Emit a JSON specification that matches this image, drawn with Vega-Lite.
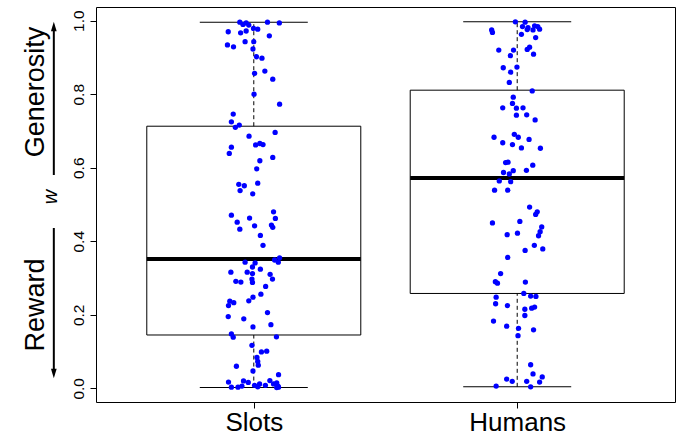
{
  "$schema": "https://vega.github.io/schema/vega-lite/v6.json",
  "width": 579,
  "height": 395,
  "autosize": "none",
  "padding": {"left": 96, "top": 7, "right": 3, "bottom": 34},
  "background": "white",
  "config": {
    "view": {"stroke": "#000", "strokeWidth": 1},
    "axis": {"grid": false, "domain": false, "tickColor": "#000", "labelColor": "#000", "labelFont": "Liberation Sans", "tickSize": 6},
    "font": "Liberation Sans"
  },
  "datasets": {
    "boxes": [
      {"group": "Slots", "pos": 1, "lo": 0.002, "q1": 0.145, "med": 0.352, "q3": 0.713, "hi": 0.996},
      {"group": "Humans", "pos": 2, "lo": 0.004, "q1": 0.258, "med": 0.572, "q3": 0.811, "hi": 0.997}
    ],
    "notes": [{"id": 1}],
    "points": [
      {"group": "Slots", "x": 0.947, "w": 0.996}, {"group": "Slots", "x": 0.959, "w": 0.990}, {"group": "Slots", "x": 0.971, "w": 0.994}, {"group": "Slots", "x": 0.981, "w": 0.988},
      {"group": "Slots", "x": 1.052, "w": 0.996}, {"group": "Slots", "x": 1.097, "w": 0.994}, {"group": "Slots", "x": 0.903, "w": 0.970}, {"group": "Slots", "x": 0.950, "w": 0.967},
      {"group": "Slots", "x": 0.971, "w": 0.972}, {"group": "Slots", "x": 0.999, "w": 0.979}, {"group": "Slots", "x": 1.015, "w": 0.977}, {"group": "Slots", "x": 1.059, "w": 0.959},
      {"group": "Slots", "x": 0.900, "w": 0.934}, {"group": "Slots", "x": 0.923, "w": 0.929}, {"group": "Slots", "x": 0.967, "w": 0.943}, {"group": "Slots", "x": 1.000, "w": 0.943},
      {"group": "Slots", "x": 0.997, "w": 0.923}, {"group": "Slots", "x": 1.010, "w": 0.902}, {"group": "Slots", "x": 1.031, "w": 0.898}, {"group": "Slots", "x": 1.003, "w": 0.857},
      {"group": "Slots", "x": 1.042, "w": 0.863}, {"group": "Slots", "x": 1.072, "w": 0.841}, {"group": "Slots", "x": 1.001, "w": 0.800}, {"group": "Slots", "x": 1.098, "w": 0.773},
      {"group": "Slots", "x": 0.922, "w": 0.746}, {"group": "Slots", "x": 0.915, "w": 0.725}, {"group": "Slots", "x": 0.930, "w": 0.710}, {"group": "Slots", "x": 0.945, "w": 0.716},
      {"group": "Slots", "x": 0.982, "w": 0.686}, {"group": "Slots", "x": 1.081, "w": 0.696}, {"group": "Slots", "x": 0.915, "w": 0.656}, {"group": "Slots", "x": 0.907, "w": 0.639},
      {"group": "Slots", "x": 1.007, "w": 0.662}, {"group": "Slots", "x": 1.023, "w": 0.666}, {"group": "Slots", "x": 1.035, "w": 0.663}, {"group": "Slots", "x": 1.023, "w": 0.619},
      {"group": "Slots", "x": 1.072, "w": 0.628}, {"group": "Slots", "x": 1.011, "w": 0.597}, {"group": "Slots", "x": 0.943, "w": 0.555}, {"group": "Slots", "x": 0.964, "w": 0.551},
      {"group": "Slots", "x": 0.948, "w": 0.538}, {"group": "Slots", "x": 1.015, "w": 0.558}, {"group": "Slots", "x": 0.996, "w": 0.529}, {"group": "Slots", "x": 0.915, "w": 0.471},
      {"group": "Slots", "x": 0.937, "w": 0.452}, {"group": "Slots", "x": 0.947, "w": 0.433}, {"group": "Slots", "x": 0.984, "w": 0.463}, {"group": "Slots", "x": 1.003, "w": 0.442},
      {"group": "Slots", "x": 1.075, "w": 0.480}, {"group": "Slots", "x": 1.082, "w": 0.462}, {"group": "Slots", "x": 1.067, "w": 0.444}, {"group": "Slots", "x": 1.072, "w": 0.438},
      {"group": "Slots", "x": 1.025, "w": 0.416}, {"group": "Slots", "x": 1.035, "w": 0.389}, {"group": "Slots", "x": 0.967, "w": 0.343}, {"group": "Slots", "x": 1.005, "w": 0.341},
      {"group": "Slots", "x": 0.995, "w": 0.330}, {"group": "Slots", "x": 1.025, "w": 0.324}, {"group": "Slots", "x": 1.079, "w": 0.349}, {"group": "Slots", "x": 1.098, "w": 0.355},
      {"group": "Slots", "x": 1.093, "w": 0.343}, {"group": "Slots", "x": 0.913, "w": 0.316}, {"group": "Slots", "x": 0.975, "w": 0.316}, {"group": "Slots", "x": 0.995, "w": 0.312},
      {"group": "Slots", "x": 1.062, "w": 0.310}, {"group": "Slots", "x": 1.071, "w": 0.297}, {"group": "Slots", "x": 0.932, "w": 0.291}, {"group": "Slots", "x": 0.951, "w": 0.289},
      {"group": "Slots", "x": 0.993, "w": 0.297}, {"group": "Slots", "x": 0.995, "w": 0.288}, {"group": "Slots", "x": 1.045, "w": 0.277}, {"group": "Slots", "x": 1.027, "w": 0.256},
      {"group": "Slots", "x": 0.997, "w": 0.248}, {"group": "Slots", "x": 0.909, "w": 0.237}, {"group": "Slots", "x": 0.924, "w": 0.233}, {"group": "Slots", "x": 0.904, "w": 0.225},
      {"group": "Slots", "x": 0.981, "w": 0.238}, {"group": "Slots", "x": 0.903, "w": 0.195}, {"group": "Slots", "x": 0.962, "w": 0.189}, {"group": "Slots", "x": 1.052, "w": 0.206},
      {"group": "Slots", "x": 1.065, "w": 0.173}, {"group": "Slots", "x": 0.997, "w": 0.167}, {"group": "Slots", "x": 0.915, "w": 0.148}, {"group": "Slots", "x": 0.922, "w": 0.139},
      {"group": "Slots", "x": 1.086, "w": 0.140}, {"group": "Slots", "x": 0.993, "w": 0.117}, {"group": "Slots", "x": 1.029, "w": 0.099}, {"group": "Slots", "x": 1.049, "w": 0.101},
      {"group": "Slots", "x": 1.012, "w": 0.084}, {"group": "Slots", "x": 1.015, "w": 0.073}, {"group": "Slots", "x": 1.017, "w": 0.063}, {"group": "Slots", "x": 0.934, "w": 0.060},
      {"group": "Slots", "x": 0.997, "w": 0.047}, {"group": "Slots", "x": 1.094, "w": 0.037}, {"group": "Slots", "x": 0.904, "w": 0.017}, {"group": "Slots", "x": 0.961, "w": 0.020},
      {"group": "Slots", "x": 0.979, "w": 0.016}, {"group": "Slots", "x": 0.915, "w": 0.003}, {"group": "Slots", "x": 0.940, "w": 0.003}, {"group": "Slots", "x": 0.955, "w": 0.006},
      {"group": "Slots", "x": 1.003, "w": 0.008}, {"group": "Slots", "x": 1.022, "w": 0.012}, {"group": "Slots", "x": 1.044, "w": 0.008}, {"group": "Slots", "x": 1.061, "w": 0.021},
      {"group": "Slots", "x": 1.075, "w": 0.012}, {"group": "Slots", "x": 1.087, "w": 0.015}, {"group": "Slots", "x": 1.092, "w": 0.006}, {"group": "Slots", "x": 1.087, "w": 0.002},
      {"group": "Slots", "x": 1.094, "w": 0.003}, {"group": "Slots", "x": 1.015, "w": 0.004},
      {"group": "Humans", "x": 1.993, "w": 0.997}, {"group": "Humans", "x": 2.030, "w": 0.996}, {"group": "Humans", "x": 2.020, "w": 0.984}, {"group": "Humans", "x": 2.041, "w": 0.981},
      {"group": "Humans", "x": 2.038, "w": 0.976}, {"group": "Humans", "x": 2.060, "w": 0.975}, {"group": "Humans", "x": 2.066, "w": 0.986}, {"group": "Humans", "x": 2.078, "w": 0.984},
      {"group": "Humans", "x": 2.085, "w": 0.977}, {"group": "Humans", "x": 1.903, "w": 0.975}, {"group": "Humans", "x": 1.906, "w": 0.968}, {"group": "Humans", "x": 2.016, "w": 0.963},
      {"group": "Humans", "x": 2.070, "w": 0.954}, {"group": "Humans", "x": 1.930, "w": 0.920}, {"group": "Humans", "x": 1.986, "w": 0.920}, {"group": "Humans", "x": 1.974, "w": 0.905},
      {"group": "Humans", "x": 2.038, "w": 0.922}, {"group": "Humans", "x": 2.047, "w": 0.928}, {"group": "Humans", "x": 2.062, "w": 0.909}, {"group": "Humans", "x": 1.947, "w": 0.872},
      {"group": "Humans", "x": 1.999, "w": 0.874}, {"group": "Humans", "x": 1.975, "w": 0.860}, {"group": "Humans", "x": 1.970, "w": 0.832}, {"group": "Humans", "x": 2.057, "w": 0.809},
      {"group": "Humans", "x": 1.985, "w": 0.792}, {"group": "Humans", "x": 1.982, "w": 0.775}, {"group": "Humans", "x": 1.945, "w": 0.763}, {"group": "Humans", "x": 1.997, "w": 0.762},
      {"group": "Humans", "x": 2.022, "w": 0.763}, {"group": "Humans", "x": 1.997, "w": 0.743}, {"group": "Humans", "x": 2.036, "w": 0.744}, {"group": "Humans", "x": 2.068, "w": 0.730},
      {"group": "Humans", "x": 1.912, "w": 0.683}, {"group": "Humans", "x": 1.945, "w": 0.668}, {"group": "Humans", "x": 1.989, "w": 0.691}, {"group": "Humans", "x": 2.004, "w": 0.683},
      {"group": "Humans", "x": 1.982, "w": 0.663}, {"group": "Humans", "x": 2.016, "w": 0.654}, {"group": "Humans", "x": 2.045, "w": 0.677}, {"group": "Humans", "x": 2.088, "w": 0.653},
      {"group": "Humans", "x": 1.956, "w": 0.614}, {"group": "Humans", "x": 1.965, "w": 0.615}, {"group": "Humans", "x": 1.948, "w": 0.587}, {"group": "Humans", "x": 1.970, "w": 0.583},
      {"group": "Humans", "x": 1.985, "w": 0.592}, {"group": "Humans", "x": 2.035, "w": 0.593}, {"group": "Humans", "x": 2.059, "w": 0.607}, {"group": "Humans", "x": 1.932, "w": 0.564},
      {"group": "Humans", "x": 1.975, "w": 0.562}, {"group": "Humans", "x": 1.914, "w": 0.539}, {"group": "Humans", "x": 1.964, "w": 0.539}, {"group": "Humans", "x": 2.047, "w": 0.493},
      {"group": "Humans", "x": 2.070, "w": 0.473}, {"group": "Humans", "x": 2.076, "w": 0.480}, {"group": "Humans", "x": 1.906, "w": 0.450}, {"group": "Humans", "x": 2.010, "w": 0.454},
      {"group": "Humans", "x": 1.962, "w": 0.418}, {"group": "Humans", "x": 2.001, "w": 0.422}, {"group": "Humans", "x": 2.093, "w": 0.439}, {"group": "Humans", "x": 2.087, "w": 0.426},
      {"group": "Humans", "x": 2.081, "w": 0.415}, {"group": "Humans", "x": 2.065, "w": 0.389}, {"group": "Humans", "x": 2.097, "w": 0.379}, {"group": "Humans", "x": 2.030, "w": 0.375},
      {"group": "Humans", "x": 1.964, "w": 0.356}, {"group": "Humans", "x": 1.937, "w": 0.312}, {"group": "Humans", "x": 1.917, "w": 0.290}, {"group": "Humans", "x": 1.925, "w": 0.286},
      {"group": "Humans", "x": 2.031, "w": 0.289}, {"group": "Humans", "x": 2.025, "w": 0.258}, {"group": "Humans", "x": 1.920, "w": 0.248}, {"group": "Humans", "x": 2.051, "w": 0.251},
      {"group": "Humans", "x": 2.071, "w": 0.250}, {"group": "Humans", "x": 1.918, "w": 0.230}, {"group": "Humans", "x": 1.963, "w": 0.225}, {"group": "Humans", "x": 2.029, "w": 0.215},
      {"group": "Humans", "x": 2.055, "w": 0.218}, {"group": "Humans", "x": 2.066, "w": 0.221}, {"group": "Humans", "x": 2.029, "w": 0.198}, {"group": "Humans", "x": 1.910, "w": 0.183},
      {"group": "Humans", "x": 1.960, "w": 0.169}, {"group": "Humans", "x": 2.005, "w": 0.163}, {"group": "Humans", "x": 2.062, "w": 0.159}, {"group": "Humans", "x": 2.003, "w": 0.143},
      {"group": "Humans", "x": 2.051, "w": 0.064}, {"group": "Humans", "x": 2.060, "w": 0.039}, {"group": "Humans", "x": 2.095, "w": 0.031}, {"group": "Humans", "x": 1.960, "w": 0.025},
      {"group": "Humans", "x": 1.981, "w": 0.019}, {"group": "Humans", "x": 2.036, "w": 0.019}, {"group": "Humans", "x": 2.085, "w": 0.017}, {"group": "Humans", "x": 1.920, "w": 0.006},
      {"group": "Humans", "x": 2.051, "w": 0.004}
    ]
  },
  "encoding": {
    "x": {"type": "quantitative", "scale": {"domain": [0.42, 2.58], "nice": false, "zero": false},
      "axis": {"values": [1, 2], "labelExpr": "datum.value == 1 ? 'Slots' : 'Humans'", "labelFontSize": 26, "labelPadding": 1, "title": null, "labelFlush": false}},
    "y": {"type": "quantitative", "scale": {"domain": [-0.0373, 1.0373], "nice": false, "zero": false},
      "axis": {"values": [0, 0.2, 0.4, 0.6, 0.8, 1.0], "format": ".1f", "labelAngle": 270, "labelAlign": "center", "labelBaseline": "bottom", "labelFontSize": 15.5, "labelPadding": 4, "title": null, "labelFlush": false}}
  },
  "layer": [
    {
      "data": {"name": "boxes"},
      "mark": {"type": "bar", "size": 214, "fill": "white", "stroke": "#000", "strokeWidth": 1, "orient": "vertical"},
      "encoding": {"x": {"field": "pos"}, "y": {"field": "q1"}, "y2": {"field": "q3"}}
    },
    {
      "data": {"name": "boxes"},
      "mark": {"type": "rule", "strokeDash": [4, 3], "color": "#000", "strokeWidth": 1},
      "encoding": {"x": {"field": "pos"}, "y": {"field": "q3"}, "y2": {"field": "hi"}}
    },
    {
      "data": {"name": "boxes"},
      "mark": {"type": "rule", "strokeDash": [4, 3], "color": "#000", "strokeWidth": 1},
      "encoding": {"x": {"field": "pos"}, "y": {"field": "lo"}, "y2": {"field": "q1"}}
    },
    {
      "data": {"name": "boxes"},
      "mark": {"type": "tick", "orient": "horizontal", "size": 108, "thickness": 1, "color": "#000", "opacity": 1},
      "encoding": {"x": {"field": "pos"}, "y": {"field": "hi"}}
    },
    {
      "data": {"name": "boxes"},
      "mark": {"type": "tick", "orient": "horizontal", "size": 108, "thickness": 1, "color": "#000", "opacity": 1},
      "encoding": {"x": {"field": "pos"}, "y": {"field": "lo"}}
    },
    {
      "data": {"name": "boxes"},
      "mark": {"type": "tick", "orient": "horizontal", "size": 214, "thickness": 4, "color": "#000", "opacity": 1},
      "encoding": {"x": {"field": "pos"}, "y": {"field": "med"}}
    },
    {
      "data": {"name": "points"},
      "mark": {"type": "circle", "size": 28, "color": "#0000FF", "opacity": 1},
      "encoding": {"x": {"field": "x"}, "y": {"field": "w"}}
    },
    {
      "data": {"name": "notes"},
      "mark": {"type": "text", "text": "Generosity", "angle": 270, "align": "center", "baseline": "alphabetic", "fontSize": 27, "font": "Liberation Sans", "color": "#000"},
      "encoding": {"x": {"datum": 0.2036}, "y": {"datum": 0.806}}
    },
    {
      "data": {"name": "notes"},
      "mark": {"type": "text", "text": "Reward", "angle": 270, "align": "center", "baseline": "alphabetic", "fontSize": 27, "font": "Liberation Sans", "color": "#000"},
      "encoding": {"x": {"datum": 0.2036}, "y": {"datum": 0.2267}}
    },
    {
      "data": {"name": "notes"},
      "mark": {"type": "text", "text": "w", "angle": 270, "align": "center", "baseline": "alphabetic", "fontSize": 20, "fontStyle": "italic", "font": "Liberation Sans", "color": "#000"},
      "encoding": {"x": {"datum": 0.2521}, "y": {"datum": 0.5204}}
    },
    {
      "data": {"name": "notes"},
      "mark": {"type": "rule", "color": "#000", "strokeWidth": 2},
      "encoding": {"x": {"datum": 0.2409}, "y": {"datum": 0.5803}, "y2": {"datum": 0.985}}
    },
    {
      "data": {"name": "notes"},
      "mark": {"type": "rule", "color": "#000", "strokeWidth": 2},
      "encoding": {"x": {"datum": 0.2409}, "y": {"datum": 0.4361}, "y2": {"datum": 0.040}}
    },
    {
      "data": {"name": "notes"},
      "mark": {"type": "point", "shape": "M0,-1L-0.6,1L0.6,1Z", "size": 90, "filled": true, "color": "#000", "opacity": 1},
      "encoding": {"x": {"datum": 0.2409}, "y": {"datum": 0.9845}}
    },
    {
      "data": {"name": "notes"},
      "mark": {"type": "point", "shape": "M0,1L-0.6,-1L0.6,-1Z", "size": 90, "filled": true, "color": "#000", "opacity": 1},
      "encoding": {"x": {"datum": 0.2409}, "y": {"datum": 0.0400}}
    }
  ]
}
